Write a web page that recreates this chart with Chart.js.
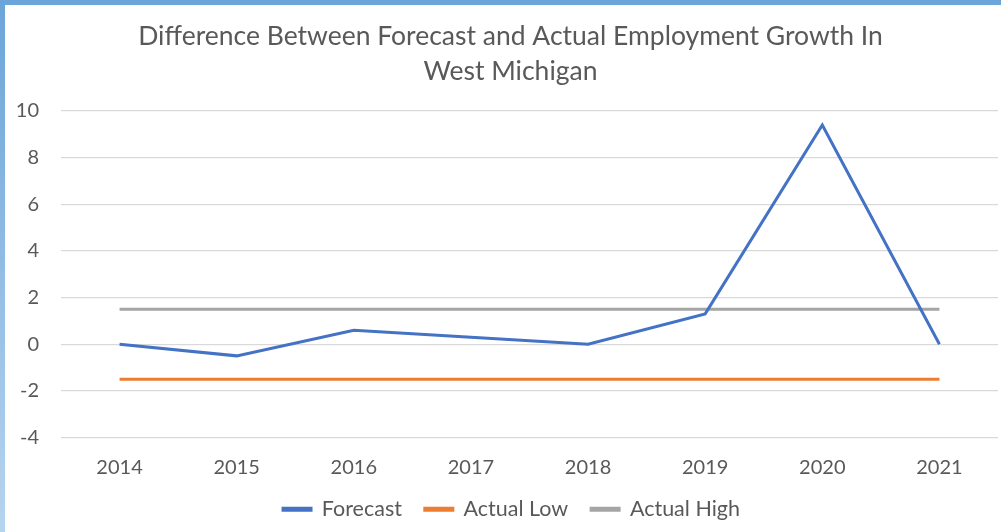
<!DOCTYPE html>
<html>
<head>
<meta charset="utf-8">
<script src="https://cdn.jsdelivr.net/npm/chart.js@4.4.0/dist/chart.umd.min.js"></script>
<style>
  html, body { margin: 0; padding: 0; background: #fff; }
  #frame {
    position: relative; width: 1001px; height: 532px; overflow: hidden;
    background: linear-gradient(to bottom, #6ba5d9, #b7d4ef);
  }
  #frame::before {
    content: ""; position: absolute; left: 0; top: 0; width: 1001px; height: 5px; background: #6ba5d9;
  }
  #box { position: absolute; left: 5px; top: 5px; width: 996px; height: 527px; background: #fff; }
</style>
</head>
<body>
<div id="frame"><div id="box"><canvas id="chart"></canvas></div></div>
<script>
const years = ["2014", "2015", "2016", "2017", "2018", "2019", "2020", "2021"];
const forecast = [0, -0.5, 0.6, 0.3, 0, 1.3, 9.4, 0];
const actualLow = [-1.5, -1.5, -1.5, -1.5, -1.5, -1.5, -1.5, -1.5];
const actualHigh = [1.5, 1.5, 1.5, 1.5, 1.5, 1.5, 1.5, 1.5];

const textColor = "#595959";
const font = "Lato, 'Open Sans', sans-serif";

const line = (label, data, color) => ({
  label,
  data,
  borderColor: color,
  backgroundColor: color,
  borderWidth: 3,
  pointRadius: 0,
  tension: 0
});

// nudge title and legend a little right, like the original
const shiftRight = {
  id: "shiftRight",
  afterLayout(chart) {
    chart.titleBlock.left += 18;
    chart.legend.left += 20;
  }
};

new Chart(document.getElementById("chart"), {
  type: "line",
  data: {
    labels: years,
    datasets: [
      line("Forecast", forecast, "#4472c4"),
      line("Actual Low", actualLow, "#ed7d31"),
      line("Actual High", actualHigh, "#a5a5a5")
    ]
  },
  plugins: [shiftRight],
  options: {
    responsive: true,
    maintainAspectRatio: false,
    animation: false,
    layout: { padding: { left: 0, right: 3, top: 0, bottom: 2 } },
    plugins: {
      title: {
        display: true,
        text: ["Difference Between Forecast and Actual Employment Growth In", "West Michigan"],
        color: textColor,
        font: { family: font, size: 26.5, weight: "normal", lineHeight: 1.32 },
        padding: { top: 14, bottom: 22 }
      },
      legend: {
        position: "bottom",
        labels: {
          color: textColor,
          font: { family: font, size: 21.5, lineHeight: 1 },
          boxWidth: 28,
          boxHeight: 2,
          padding: 5,
          generateLabels: chart =>
            Chart.defaults.plugins.legend.labels.generateLabels(chart).map((item, i, all) => ({
              ...item,
              text: i < all.length - 1 ? item.text + "\u2002\u2004" : item.text
            }))
        }
      },
      tooltip: { enabled: false }
    },
    scales: {
      x: {
        offset: true,
        afterFit: scale => { scale.height += 4; },
        grid: { display: false },
        border: { display: false },
        ticks: { color: textColor, font: { family: font, size: 20 }, padding: 10 }
      },
      y: {
        min: -4,
        max: 10,
        afterFit: scale => { scale.width = 56; },
        grid: { color: "#d9d9d9", lineWidth: 1.3, drawTicks: false },
        border: { display: false },
        ticks: { stepSize: 2, color: textColor, font: { family: font, size: 20 }, padding: 22 }
      }
    }
  }
});
</script>
</body>
</html>
